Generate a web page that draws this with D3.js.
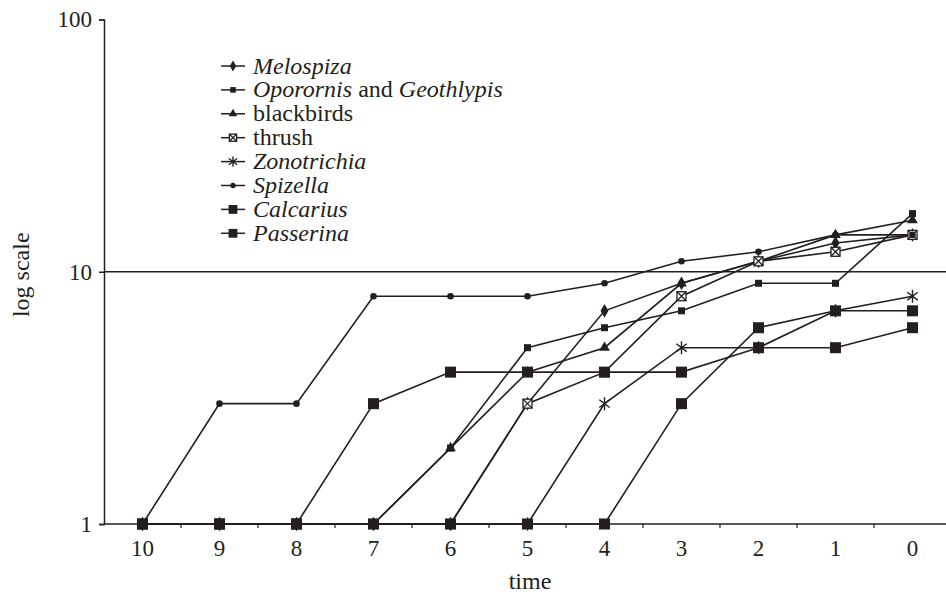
<!DOCTYPE html>
<html>
<head>
<meta charset="utf-8">
<script src="https://cdn.jsdelivr.net/npm/d3@7"></script>
<style>
  body { margin: 0; background: #fff; }
  svg { display: block; font-family: 'Liberation Serif', 'Times New Roman', serif; }
</style>
</head>
<body>
<svg width="946" height="595"></svg>
<script>
'use strict'

// data
const times = ['10', '9', '8', '7', '6', '5', '4', '3', '2', '1', '0']
const melospiza = [1, 1, 1, 1, 1, 3, 7, 9, 11, 13, 14]
const oporornis = [1, 1, 1, 1, 2, 5, 6, 7, 9, 9, 17]
const blackbirds = [1, 1, 1, 1, 2, 4, 5, 9, 11, 14, 16]
const thrush = [1, 1, 1, 1, 1, 3, 4, 8, 11, 12, 14]
const zonotrichia = [1, 1, 1, 1, 1, 1, 3, 5, 5, 7, 8]
const spizella = [1, 3, 3, 8, 8, 8, 9, 11, 12, 14, 14]
const calcarius = [1, 1, 1, 3, 4, 4, 4, 4, 5, 5, 6]
const passerina = [1, 1, 1, 1, 1, 1, 1, 3, 6, 7, 7]
const yTicks = [1, 10, 100]

const series = [
  { label: [['Melospiza', true]], values: melospiza, mark: 'diamond' },
  { label: [['Oporornis', true], [' and ', false], ['Geothlypis', true]], values: oporornis, mark: 'square' },
  { label: [['blackbirds', false]], values: blackbirds, mark: 'triangle' },
  { label: [['thrush', false]], values: thrush, mark: 'thrush' },
  { label: [['Zonotrichia', true]], values: zonotrichia, mark: 'star' },
  { label: [['Spizella', true]], values: spizella, mark: 'circle' },
  { label: [['Calcarius', true]], values: calcarius, mark: 'bigsquare' },
  { label: [['Passerina', true]], values: passerina, mark: 'bigsquare' }
]

const ink = '#231f20'
const svg = d3.select('body svg')

const x = d3.scaleBand().domain(times).range([104, 951]).padding(0)
const y = d3.scaleLog().domain([1, 100]).range([524, 19.5])
const xc = (t) => x(t) + x.bandwidth() / 2

// y axis
const yAxis = d3.axisLeft(y)
  .tickValues(yTicks)
  .tickFormat(d3.format('d'))
  .tickSize(5)
  .tickPadding(7)
svg.append('g').classed('yAxis', true)
  .attr('transform', 'translate(104,0)')
  .call(yAxis)

// x axis: labels at band centres, ticks at band edges
const xAxis = d3.axisBottom(x).tickSize(0).tickPadding(16)
svg.append('g').classed('xAxis', true)
  .attr('transform', `translate(0,${y(1)})`)
  .call(xAxis)
svg.select('g.xAxis path.domain').remove()
svg.append('line')
  .attr('x1', 104).attr('x2', 946)
  .attr('y1', y(1)).attr('y2', y(1))
  .style('stroke', ink).style('stroke-width', 1.5)
svg.append('g').selectAll('line')
  .data(times.slice(1))
  .enter().append('line')
  .attr('x1', (d) => x(d)).attr('x2', (d) => x(d))
  .attr('y1', y(1)).attr('y2', y(1) + 4)
  .style('stroke', ink).style('stroke-width', 1.2)

svg.selectAll('.yAxis path.domain, .yAxis line').style('stroke', ink).style('stroke-width', 1.5)
svg.selectAll('.xAxis text, .yAxis text')
  .style('font-family', "'Liberation Serif', 'Times New Roman', serif")
  .style('font-size', '23px')
  .style('fill', ink)

// reference line at 10
svg.append('line')
  .attr('x1', 104).attr('x2', 946)
  .attr('y1', y(10)).attr('y2', y(10))
  .style('stroke', ink).style('stroke-width', 1.5)

// axis titles
svg.append('text')
  .attr('transform', `translate(29,${y(10) + 3}) rotate(-90)`)
  .attr('text-anchor', 'middle')
  .style('font-size', '24px').style('fill', ink)
  .text('log scale')
svg.append('text')
  .attr('x', 530).attr('y', 589)
  .attr('text-anchor', 'middle')
  .style('font-size', '24px').style('fill', ink)
  .text('time')

// markers
const drawMark = (g, mark, s) => {
  if (mark === 'diamond') {
    g.append('path').attr('d', d3.symbol(d3.symbolDiamond, 55 * s * s)()).style('fill', ink)
  } else if (mark === 'square') {
    g.append('rect').attr('x', -3.5 * s).attr('y', -3.5 * s)
      .attr('width', 7 * s).attr('height', 7 * s).style('fill', ink)
  } else if (mark === 'bigsquare') {
    g.append('rect').attr('x', -5.5 * s).attr('y', -5.5 * s)
      .attr('width', 11 * s).attr('height', 11 * s).style('fill', ink)
  } else if (mark === 'triangle') {
    g.append('path').attr('d', d3.symbol(d3.symbolTriangle, 50 * s * s)()).style('fill', ink)
  } else if (mark === 'thrush') {
    const h = 4.5 * s
    g.append('rect').attr('x', -h).attr('y', -h)
      .attr('width', 2 * h).attr('height', 2 * h)
      .style('fill', '#fff').style('stroke', ink).style('stroke-width', 1.3)
    g.append('path').attr('d', `M${-h},${-h}L${h},${h}M${-h},${h}L${h},${-h}`)
      .style('stroke', ink).style('stroke-width', 1.3)
  } else if (mark === 'star') {
    const r = 6.5 * s
    const a = r * 0.8
    const b = r * 0.6
    g.append('path')
      .attr('d', `M0,${-r}L0,${r}M${-a},${-b}L${a},${b}M${-a},${b}L${a},${-b}`)
      .style('stroke', ink).style('stroke-width', 1.4).style('fill', 'none')
  } else if (mark === 'circle') {
    g.append('circle').attr('r', 3.3 * s).style('fill', ink)
  }
}

const line = d3.line()
  .x((d, i) => xc(times[i]))
  .y((d) => y(d))

const plot = svg.append('g').classed('plot', true)
series.forEach((s) => {
  plot.append('path')
    .datum(s.values)
    .attr('d', line)
    .style('fill', 'none')
    .style('stroke', ink)
    .style('stroke-width', 1.6)
})
series.forEach((s) => {
  plot.append('g').selectAll('g')
    .data(s.values)
    .enter().append('g')
    .attr('transform', (d, i) => `translate(${xc(times[i])},${y(d)})`)
    .each(function() { drawMark(d3.select(this), s.mark, 1) })
})

// legend
const legend = svg.append('g').classed('legend', true)
series.forEach((s, i) => {
  const row = legend.append('g').attr('transform', `translate(221,${66 + i * 23.9})`)
  row.append('line').attr('x1', 0).attr('x2', 24)
    .style('stroke', ink).style('stroke-width', 1.5)
  drawMark(row.append('g').attr('transform', 'translate(12,0)'), s.mark, 0.8)
  const t = row.append('text').attr('x', 32).attr('y', 7.5)
    .style('font-size', '24px').style('fill', ink)
  s.label.forEach(([txt, it]) => {
    t.append('tspan').style('font-style', it ? 'italic' : 'normal').text(txt)
  })
})
</script>
</body>
</html>
